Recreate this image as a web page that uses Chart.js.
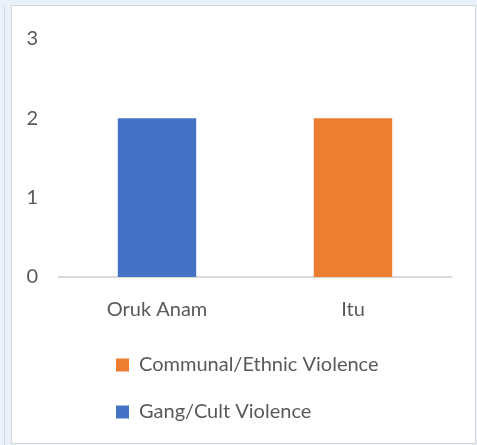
<!DOCTYPE html>
<html>
<head>
<meta charset="utf-8">
<script src="https://cdn.jsdelivr.net/npm/chart.js@4"></script>
<style>
  html, body { margin: 0; padding: 0; }
  body { width: 477px; height: 445px; background: #e9f1fb; position: relative; overflow: hidden; }
  .edge { position: absolute; left: 4px; top: 5px; width: 1px; height: 440px; background: #d4d8de; }
  .frame { position: absolute; left: 11px; top: 5px; width: 463px; height: 437px; background: #fff; border: 1px solid #d6d6d6; }
  canvas { display: block; }
</style>
</head>
<body>
<div class="edge"></div>
<div class="frame"><canvas id="chart" width="463" height="437"></canvas></div>
<script>
// values
const categories = ['Oruk Anam', 'Itu'];
const gangCult = [2, null];
const communalEthnic = [null, 2];
const seriesNames = ['Gang/Cult Violence', 'Communal/Ethnic Violence'];
const seriesColors = ['#4472c4', '#ed7d31'];

// shift the legend so both rows start at the same x, like the Excel one
const legendShift = {
    id: 'legendShift',
    afterLayout(chart) {
        chart.legend.left = 77;
    }
};

new Chart('chart', {
    type: 'bar',
    data: {
        labels: categories,
        datasets: [{
            label: seriesNames[0],
            data: gangCult,
            backgroundColor: seriesColors[0],
        }, {
            label: seriesNames[1],
            data: communalEthnic,
            backgroundColor: seriesColors[1],
        }]
    },
    options: {
        responsive: false,
        animation: false,
        skipNull: true,
        categoryPercentage: 1,
        barPercentage: 0.4,
        layout: {
            padding: { left: 15, right: 24, top: 20, bottom: 11 }
        },
        scales: {
            x: {
                grid: { display: false, drawTicks: false },
                border: { display: true, color: '#d9d9d9', width: 2 },
                ticks: { color: '#595959', padding: 21, font: { family: 'Lato', size: 20 } },
                afterFit: (scale) => {
                    scale.height -= 15;
                    scale.paddingLeft = 0;
                    scale.paddingRight = 0;
                }
            },
            y: {
                min: 0,
                max: 3,
                grid: { display: false, drawTicks: false },
                border: { display: false },
                ticks: { stepSize: 1, color: '#595959', padding: 21, font: { family: 'Lato', size: 20 } },
                afterFit: (scale) => { scale.width = 32; }
            }
        },
        plugins: {
            legend: {
                position: 'bottom',
                align: 'start',
                reverse: true,
                labels: {
                    boxWidth: 13,
                    boxHeight: 13,
                    padding: 27,
                    color: '#595959',
                    font: { family: 'Lato', size: 20 }
                }
            },
            tooltip: { enabled: false }
        }
    },
    plugins: [legendShift]
});
</script>
</body>
</html>
